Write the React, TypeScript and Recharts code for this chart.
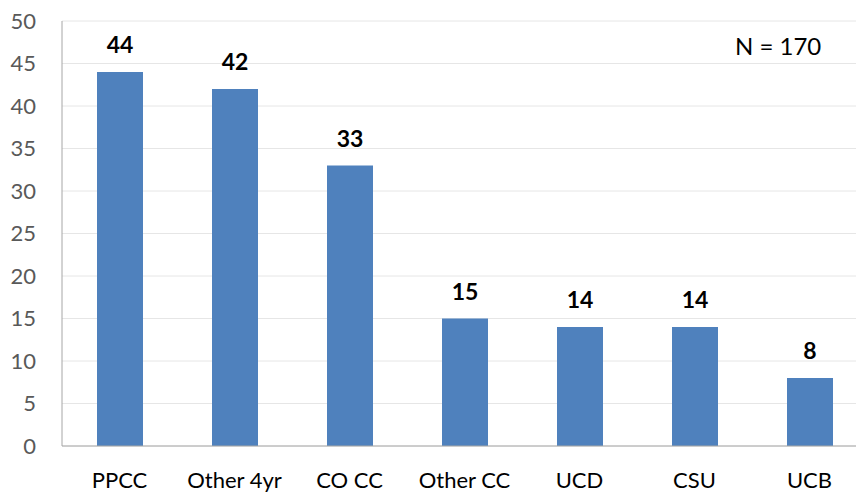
import React from "react";
import { BarChart, Bar, XAxis, YAxis, CartesianGrid, LabelList } from "recharts";

const categories = ["PPCC", "Other 4yr", "CO CC", "Other CC", "UCD", "CSU", "UCB"];
const counts = [44, 42, 33, 15, 14, 14, 8];
const yTicks = [0, 5, 10, 15, 20, 25, 30, 35, 40, 45, 50];
const noteText = "N = 170";

const data = categories.map((name, i) => ({ name, value: counts[i] }));

const FONT = "Lato, 'Noto Sans', sans-serif";

export default function App() {
  return (
    <div style={{ position: "absolute", left: 0, top: 0, width: 856, height: 494, overflow: "hidden", background: "#fff" }}>
      <BarChart
        width={867}
        height={494}
        data={data}
        margin={{ top: 21, right: 0, bottom: 0, left: 0 }}
        barSize={46}
      >
        <CartesianGrid vertical={false} stroke="#e6e6e6" />
        <XAxis
          dataKey="name"
          height={48}
          tickLine={false}
          tickSize={0}
          tickMargin={26}
          axisLine={{ stroke: "#a6a6a6" }}
          tick={{ fill: "#000", fontSize: 22, fontFamily: FONT }}
          interval={0}
        />
        <YAxis
          width={62}
          domain={[0, 50]}
          ticks={yTicks}
          tickLine={false}
          tickSize={0}
          tickMargin={26}
          axisLine={{ stroke: "#a6a6a6" }}
          tick={{ fill: "#595959", fontSize: 22, fontFamily: FONT }}
        />
        <Bar dataKey="value" fill="#4F81BD" isAnimationActive={false}>
          <LabelList
            dataKey="value"
            position="top"
            offset={19}
            style={{ fill: "#000", fontSize: 23, fontWeight: 700, fontFamily: FONT }}
          />
        </Bar>
      </BarChart>
      <div
        style={{
          position: "absolute",
          left: 735,
          top: 32,
          fontSize: 24,
          fontFamily: FONT,
          color: "#000",
          whiteSpace: "nowrap",
          lineHeight: "28px",
        }}
      >
        {noteText}
      </div>
    </div>
  );
}
